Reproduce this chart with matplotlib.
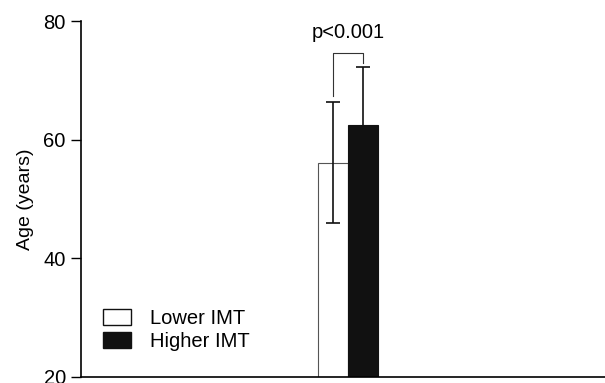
import matplotlib
matplotlib.use("Agg")
import matplotlib.pyplot as plt
from matplotlib.patches import Patch

plt.rcParams['font.family'] = ['Liberation Sans', 'DejaVu Sans']

groups = ["Lower IMT", "Higher IMT"]
means = [56.1, 62.5]
sds = [10.2, 9.7]
colors = ["white", "#111111"]
p_text = "p<0.001"

fig = plt.figure(figsize=(6.05, 3.83), dpi=100)
ax = fig.add_axes([0.134, 0.0157, 0.866, 0.929])

pos = [0, 1]
ax.bar(pos, [m - 20 for m in means], bottom=20, width=1.0, color=colors,
       edgecolor=["#555555", "#111111"], linewidth=0.8)
ax.errorbar(pos, means, yerr=sds, fmt='none', ecolor='#111111',
            elinewidth=1.2, capsize=5, capthick=1.2)

# significance bracket
top_l = means[0] + sds[0]
top_r = means[1] + sds[1]
yb = 74.6
ax.plot([0, 0, 1, 1], [top_l + 1.0, yb, yb, top_r + 0.8], color='#333333', lw=0.8)
ax.text(0.5, 76.5, p_text, ha='center', va='bottom', fontsize=14.5)

ax.set_xlim(-8.4, 9.07)
ax.set_ylim(20, 80)
ax.set_yticks([20, 40, 60, 80])
ax.tick_params(axis='y', direction='out', length=7, width=1, labelsize=14.5, pad=4)
ax.set_xticks([])
ax.spines['top'].set_visible(False)
ax.spines['right'].set_visible(False)
ax.spines['left'].set_linewidth(1.2)
ax.spines['bottom'].set_linewidth(1.2)
ax.set_ylabel("Age (years)", fontsize=14, labelpad=7)

handles = [Patch(facecolor=colors[0], edgecolor='#111111', linewidth=1.0),
           Patch(facecolor=colors[1], edgecolor='#111111', linewidth=1.0)]
ax.legend(handles, groups, loc='lower left', bbox_to_anchor=(0.023, 0.045),
          frameon=False, fontsize=14.5, handlelength=1.4, handleheight=0.85,
          handletextpad=0.9, labelspacing=0.2, borderpad=0)

fig.savefig("out.png", dpi=100)
